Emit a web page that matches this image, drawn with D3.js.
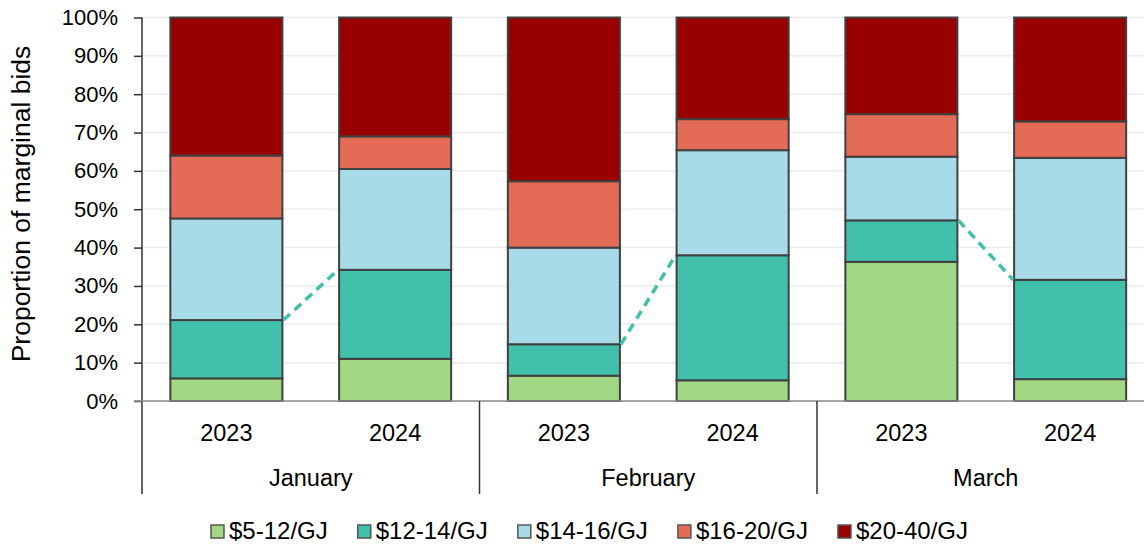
<!DOCTYPE html>
<html>
<head>
<meta charset="utf-8">
<script src="https://cdn.jsdelivr.net/npm/d3@7"></script>
<style>
  html, body { margin: 0; padding: 0; background: #fff; }
  svg { display: block; font-family: "Liberation Sans", Arial, sans-serif; }
</style>
</head>
<body>
<svg id="chart" width="1144" height="545"></svg>
<script>
// Months and years that make up the two-level category axis
const months = ["January", "February", "March"];
const years = ["2023", "2024"];

// Share of marginal bids (%) per price bucket, one entry per bar:
// Jan 2023, Jan 2024, Feb 2023, Feb 2024, Mar 2023, Mar 2024
const bid5to12  = [5.9, 11.0, 6.6, 5.4, 36.3, 5.7];
const bid12to14 = [15.2, 23.2, 8.2, 32.6, 10.8, 25.9];
const bid14to16 = [26.5, 26.3, 25.2, 27.4, 16.6, 31.8];
const bid16to20 = [16.4, 8.5, 17.3, 8.1, 11.1, 9.5];
const bid20to40 = [36.0, 31.0, 42.7, 26.5, 25.2, 27.1];

const seriesNames = ["$5-12/GJ", "$12-14/GJ", "$14-16/GJ", "$16-20/GJ", "$20-40/GJ"];
const seriesValues = [bid5to12, bid12to14, bid14to16, bid16to20, bid20to40];
const seriesColors = ["#a2d884", "#41c1ab", "#a6dbe7", "#e46c57", "#990000"];

const yTicks = [0, 0.1, 0.2, 0.3, 0.4, 0.5, 0.6, 0.7, 0.8, 0.9, 1.0];

// Build one row per bar for d3.stack
const rows = [];
months.forEach((m, mi) => {
  years.forEach((yr, yi) => {
    const i = mi * years.length + yi;
    const row = { month: m, year: yr };
    seriesNames.forEach((s, si) => { row[s] = seriesValues[si][i] / 100; });
    rows.push(row);
  });
});

const svg = d3.select("#chart");
const plotLeft = 142, plotRight = 1154.5, plotTop = 17.5, plotBottom = 401;

const x0 = d3.scaleBand().domain(months).range([plotLeft, plotRight]).padding(0);
const x1 = d3.scaleBand().domain(years).range([0, x0.bandwidth()])
  .paddingInner(0.336).paddingOuter(0.168);
const y = d3.scaleLinear().domain([0, 1]).range([plotBottom, plotTop]);
const color = d3.scaleOrdinal().domain(seriesNames).range(seriesColors);

const barX = d => x0(d.data.month) + x1(d.data.year);

// Horizontal gridlines
svg.append("g").selectAll("line").data(yTicks.slice(1)).join("line")
  .attr("x1", plotLeft).attr("x2", 1144)
  .attr("y1", d => y(d)).attr("y2", d => y(d))
  .attr("stroke", "#ececec").attr("stroke-width", 1.5);

// Stacked bars
const stacked = d3.stack().keys(seriesNames)(rows);
svg.append("g").selectAll("g").data(stacked).join("g")
  .attr("fill", d => color(d.key))
  .selectAll("rect").data(d => d).join("rect")
  .attr("x", barX)
  .attr("width", x1.bandwidth())
  .attr("y", d => y(d[1]))
  .attr("height", d => y(d[0]) - y(d[1]))
  .attr("stroke", "#404040").attr("stroke-width", 2);

// Dashed connector between the top of the two lowest buckets in each month
const lowTop = stacked[1];
const connectors = months.map(m => {
  const a = lowTop.find(d => d.data.month === m && d.data.year === years[0]);
  const b = lowTop.find(d => d.data.month === m && d.data.year === years[1]);
  return [[barX(a) + x1.bandwidth() + 1, y(a[1])], [barX(b) - 1, y(b[1])]];
});
svg.append("g").selectAll("path").data(connectors).join("path")
  .attr("d", d3.line())
  .attr("fill", "none")
  .attr("stroke", "#41c1ab").attr("stroke-width", 3.5)
  .attr("stroke-dasharray", "9,6");

// Y axis
const yAxis = d3.axisLeft(y).tickValues(yTicks).tickFormat(d3.format(".0%"))
  .tickSize(8).tickPadding(16);
const gy = svg.append("g").attr("transform", `translate(${plotLeft},0)`).call(yAxis);
gy.select(".domain").remove();
gy.selectAll(".tick line").attr("stroke", "#333").attr("stroke-width", 1.5);
gy.selectAll(".tick text").attr("font-size", 22).attr("fill", "#000")
  .attr("font-family", "Liberation Sans, Arial, sans-serif");
svg.append("line").attr("x1", plotLeft).attr("x2", plotLeft).attr("y1", plotTop).attr("y2", 494)
  .attr("stroke", "#333").attr("stroke-width", 1.5);

// X baseline
svg.append("line").attr("x1", plotLeft - 8).attr("x2", 1144).attr("y1", plotBottom).attr("y2", plotBottom)
  .attr("stroke", "#8a8a8a").attr("stroke-width", 1.5);

// Month separators
svg.append("g").selectAll("line").data(months.slice(1)).join("line")
  .attr("x1", d => x0(d)).attr("x2", d => x0(d))
  .attr("y1", plotBottom).attr("y2", 494)
  .attr("stroke", "#333").attr("stroke-width", 1.5);

// Year labels
svg.append("g").selectAll("text").data(rows).join("text")
  .attr("x", d => x0(d.month) + x1(d.year) + x1.bandwidth() / 2)
  .attr("y", 441)
  .attr("text-anchor", "middle").attr("font-size", 23.5).attr("fill", "#000")
  .text(d => d.year);

// Month labels
svg.append("g").selectAll("text").data(months).join("text")
  .attr("x", d => x0(d) + x0.bandwidth() / 2)
  .attr("y", 486)
  .attr("text-anchor", "middle").attr("font-size", 23.5).attr("fill", "#000")
  .text(d => d);

// Y axis title
svg.append("text")
  .attr("transform", "translate(30,204) rotate(-90)")
  .attr("text-anchor", "middle").attr("font-size", 26.5).attr("fill", "#000")
  .text("Proportion of marginal bids");

// Legend laid out left to right
const legend = svg.append("g");
let lx = 211;
seriesNames.forEach((s, i) => {
  legend.append("rect").attr("x", lx).attr("y", 525).attr("width", 13).attr("height", 13)
    .attr("fill", seriesColors[i]).attr("stroke", "#555").attr("stroke-width", 1.5);
  const t = legend.append("text").attr("x", lx + 18).attr("y", 539)
    .attr("font-size", 24).attr("fill", "#000").text(s);
  lx += 18 + t.node().getComputedTextLength() + 30;
});
</script>
</body>
</html>
